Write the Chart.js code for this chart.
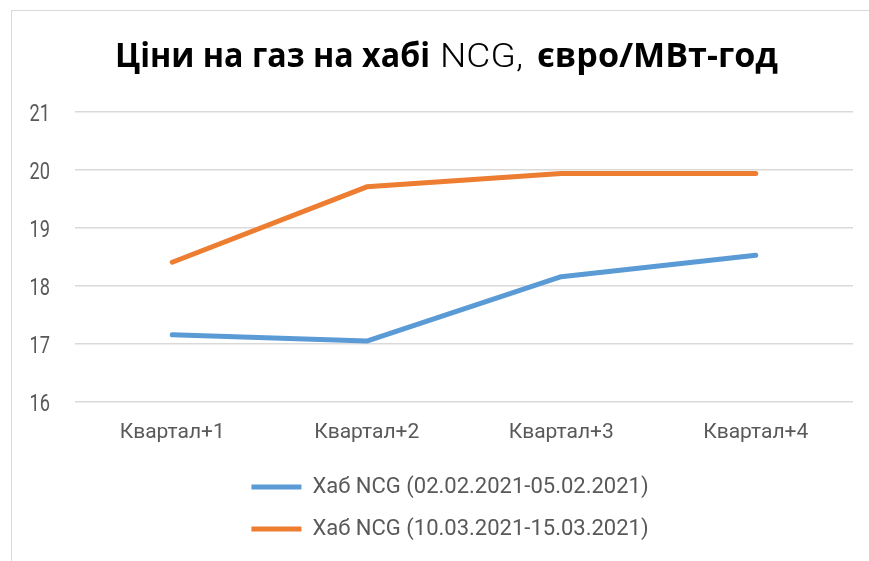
<!DOCTYPE html>
<html><head><meta charset="utf-8">
<script src="https://cdn.jsdelivr.net/npm/chart.js@4"></script>
<style>
html,body{margin:0;padding:0;background:#fff;overflow:hidden;}
#wrap{position:absolute;left:11px;top:10px;border:1px solid #d9d9d9;}
canvas{display:block}
</style></head><body>
<div id="wrap"><canvas id="c" width="874" height="560"></canvas></div>
<script>
const categories = ['Квартал+1', 'Квартал+2', 'Квартал+3', 'Квартал+4'];
const seriesFeb = [17.16, 17.05, 18.16, 18.53];
const seriesMar = [18.41, 19.71, 19.94, 19.94];
const seriesNames = ['Хаб NCG (02.02.2021-05.02.2021)', 'Хаб NCG (10.03.2021-15.03.2021)'];
const yRange = [16, 21];
const titleParts = ['Ціни на газ на хабі', 'NCG,', 'євро/МВт-год'];

const TEXT_GREY = '#595959';

// Title: mixed bold / light run, as in the reference
const titleStyle = [
  {font: 'bold 34px "Open Sans", Lato, sans-serif', left: 103, width: 315},
  {font: '300 34px Roboto, sans-serif', left: 428, width: 83},
  {font: 'bold 34px "Open Sans", Lato, sans-serif', left: 525, width: 241}
];

function drawFit(ctx, text, x, y, sx, align) {
  ctx.save();
  ctx.translate(x, y);
  ctx.scale(sx, 1);
  ctx.textAlign = align || 'left';
  ctx.fillText(text, 0, 0);
  ctx.restore();
}

const textPlugin = {
  id: 'textPlugin',
  afterDraw(chart) {
    const ctx = chart.ctx;
    ctx.save();
    // title
    ctx.fillStyle = '#000';
    ctx.textBaseline = 'alphabetic';
    titleParts.forEach((t, i) => {
      ctx.font = titleStyle[i].font;
      const w = ctx.measureText(t).width;
      drawFit(ctx, t, titleStyle[i].left, 56, titleStyle[i].width / w, 'left');
    });
    // y-axis labels (condensed face in the reference)
    const ys = chart.scales.y;
    ctx.fillStyle = TEXT_GREY;
    ctx.font = '24px Roboto, sans-serif';
    ys.ticks.forEach((tk, i) => {
      drawFit(ctx, String(tk.value), chart.chartArea.left - 25, ys.getPixelForTick(i) + 8.5, 0.76, 'right');
    });
    // x-axis labels
    const xs = chart.scales.x;
    ctx.font = '21px Roboto, sans-serif';
    xs.ticks.forEach((tk, i) => {
      drawFit(ctx, xs.getLabelForValue(tk.value), xs.getPixelForTick(i), chart.chartArea.bottom + 36, 1, 'center');
    });
    ctx.restore();
  }
};

new Chart(document.getElementById('c'), {
  type: 'line',
  data: {
    labels: categories,
    datasets: [
      {label: seriesNames[0], data: seriesFeb, borderColor: '#5B9BD5', backgroundColor: '#5B9BD5',
       borderWidth: 5, pointRadius: 0, borderCapStyle: 'round', borderJoinStyle: 'round', tension: 0},
      {label: seriesNames[1], data: seriesMar, borderColor: '#ED7D31', backgroundColor: '#ED7D31',
       borderWidth: 5, pointRadius: 0, borderCapStyle: 'round', borderJoinStyle: 'round', tension: 0}
    ]
  },
  options: {
    responsive: false,
    devicePixelRatio: 1,
    animation: false,
    layout: {padding: {left: 35, right: 33, top: 101, bottom: 21}},
    plugins: {
      title: {display: false},
      tooltip: {enabled: false},
      legend: {
        position: 'bottom',
        labels: {
          usePointStyle: true,
          pointStyle: 'line',
          pointStyleWidth: 50,
          boxHeight: 5,
          padding: 20,
          color: TEXT_GREY,
          font: {family: 'Roboto', size: 22}
        }
      }
    },
    scales: {
      x: {
        offset: true,
        grid: {display: false},
        border: {display: false},
        ticks: {display: false},
        afterFit(s) { s.height = 54; }
      },
      y: {
        min: yRange[0], max: yRange[1],
        grid: {color: '#d9d9d9', lineWidth: 1.5, drawTicks: false},
        border: {display: false},
        ticks: {stepSize: 1, display: false},
        afterFit(s) { s.width = 28; }
      }
    }
  },
  plugins: [textPlugin]
});
</script>
</body></html>
